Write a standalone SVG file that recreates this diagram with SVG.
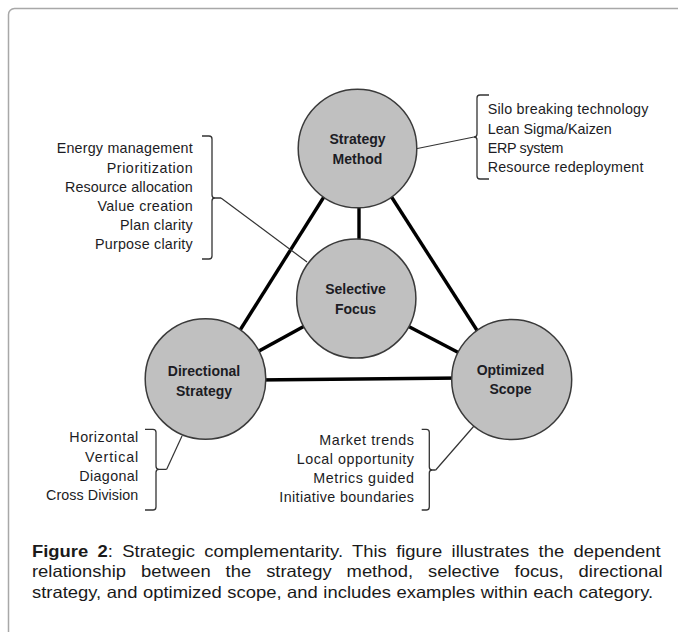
<svg xmlns="http://www.w3.org/2000/svg" width="678" height="632" viewBox="0 0 678 632">
<style>
.node circle{fill:#c0c0c0;stroke:#3a3a3a;stroke-width:1.5}
.node text{font-family:"Liberation Sans",Arial,sans-serif;font-weight:bold;font-size:14px;fill:#1c1c24;text-anchor:middle}
.edge{stroke:#000;stroke-width:3.4;fill:none;stroke-linecap:butt}
.thin{stroke:#333;stroke-width:1.2;fill:none}
.br{stroke:#333;stroke-width:1.3;fill:none}
.lst{font-family:"Liberation Sans",Arial,sans-serif;font-size:14.3px;fill:#1c1c24}
.r{text-anchor:end}
.cap{font-family:"Liberation Sans",Arial,sans-serif;font-size:16.3px;fill:#1a1a1a}
</style>
<rect x="8.5" y="8.5" width="720" height="720" rx="6" fill="#fff" stroke="#a8a8a8" stroke-width="1.5"/>
<g id="connectors">
<line class="edge" x1="327" y1="192" x2="237" y2="335"/>
<line class="edge" x1="389" y1="193" x2="480" y2="335"/>
<line class="edge" x1="359" y1="200" x2="359" y2="245"/>
<line class="edge" x1="310" y1="323" x2="250" y2="356"/>
<line class="edge" x1="402" y1="323" x2="465" y2="356"/>
<line class="edge" x1="255" y1="380" x2="462" y2="378"/>
<path class="thin" d="M221,198 L307,262"/>
<path class="thin" d="M410,150 L474,137"/>
<path class="thin" d="M166.7,469.3 L182,436"/>
<path class="thin" d="M435.7,470 L474,426"/>
</g>
<g id="node-strategy-method" class="node">
<circle cx="357.5" cy="148.5" r="59.3"/>
<text x="357.5" y="144">Strategy</text>
<text x="357.5" y="163.5">Method</text>
</g>
<g id="node-selective-focus" class="node">
<circle cx="356.3" cy="298.5" r="59.6"/>
<text x="355.5" y="293.5">Selective</text>
<text x="355.5" y="313.5">Focus</text>
</g>
<g id="node-directional-strategy" class="node">
<circle cx="205.5" cy="379" r="60.3"/>
<text x="204" y="376">Directional</text>
<text x="204" y="395.5">Strategy</text>
</g>
<g id="node-optimized-scope" class="node">
<circle cx="511.7" cy="379.5" r="60"/>
<text x="510.5" y="374.5">Optimized</text>
<text x="510.5" y="393.5">Scope</text>
</g>
<g id="list-selective-focus">
<path class="br" d="M202,136 H209 Q212,136 212,139 V195 Q212,198 215,198 H221 M215,198 Q212,198 212,201 V256 Q212,259 209,259 H202"/>
<text class="lst r" x="192.7" y="153" textLength="136" lengthAdjust="spacing">Energy management</text>
<text class="lst r" x="192.7" y="172.5" textLength="86" lengthAdjust="spacing">Prioritization</text>
<text class="lst r" x="192.7" y="191.5" textLength="127.7" lengthAdjust="spacing">Resource allocation</text>
<text class="lst r" x="192.7" y="211" textLength="95.3" lengthAdjust="spacing">Value creation</text>
<text class="lst r" x="192.7" y="230" textLength="72.7" lengthAdjust="spacing">Plan clarity</text>
<text class="lst r" x="192.7" y="249" textLength="97.7" lengthAdjust="spacing">Purpose clarity</text>
</g>
<g id="list-strategy-method">
<path class="br" d="M489,95 H480 Q477,95 477,98 V134 Q477,137 474,137 M474,137 Q477,137 477,140 V176 Q477,179 480,179 H489"/>
<text class="lst" x="487.7" y="114" textLength="160.7" lengthAdjust="spacing">Silo breaking technology</text>
<text class="lst" x="487.7" y="134" textLength="124" lengthAdjust="spacing">Lean Sigma/Kaizen</text>
<text class="lst" x="487.7" y="153" textLength="75.7" lengthAdjust="spacing">ERP system</text>
<text class="lst" x="487.7" y="172" textLength="155.7" lengthAdjust="spacing">Resource redeployment</text>
</g>
<g id="list-directional-strategy">
<path class="br" d="M145,429.3 H153 Q156,429.3 156,432.3 V466.3 Q156,469.3 159,469.3 H166.7 M159,469.3 Q156,469.3 156,472.3 V507 Q156,510 153,510 H145"/>
<text class="lst r" x="138.3" y="442" textLength="69" lengthAdjust="spacing">Horizontal</text>
<text class="lst r" x="138.3" y="462" textLength="53.3" lengthAdjust="spacing">Vertical</text>
<text class="lst r" x="138.3" y="481" textLength="59" lengthAdjust="spacing">Diagonal</text>
<text class="lst r" x="138.3" y="500" textLength="92.3" lengthAdjust="spacing">Cross Division</text>
</g>
<g id="list-optimized-scope">
<path class="br" d="M421.7,429.3 H426.3 Q429.3,429.3 429.3,432.3 V467 Q429.3,470 432.3,470 H435.7 M432.3,470 Q429.3,470 429.3,473 V507 Q429.3,510 426.3,510 H421.7"/>
<text class="lst r" x="414" y="445" textLength="94.7" lengthAdjust="spacing">Market trends</text>
<text class="lst r" x="414" y="464" textLength="117.3" lengthAdjust="spacing">Local opportunity</text>
<text class="lst r" x="414" y="483" textLength="100.7" lengthAdjust="spacing">Metrics guided</text>
<text class="lst r" x="414" y="502" textLength="134.7" lengthAdjust="spacing">Initiative boundaries</text>
</g>
<g id="caption" transform="scale(1.13,1)">
<text class="cap" x="28.3" y="557" word-spacing="3.76"><tspan font-weight="bold">Figure 2</tspan>: Strategic complementarity. This figure illustrates the dependent</text>
<text class="cap" x="28.3" y="577.5" word-spacing="8.72">relationship between the strategy method, selective focus, directional</text>
<text class="cap" x="28.3" y="598" word-spacing="0.4">strategy, and optimized scope, and includes examples within each category.</text>
</g>
</svg>
